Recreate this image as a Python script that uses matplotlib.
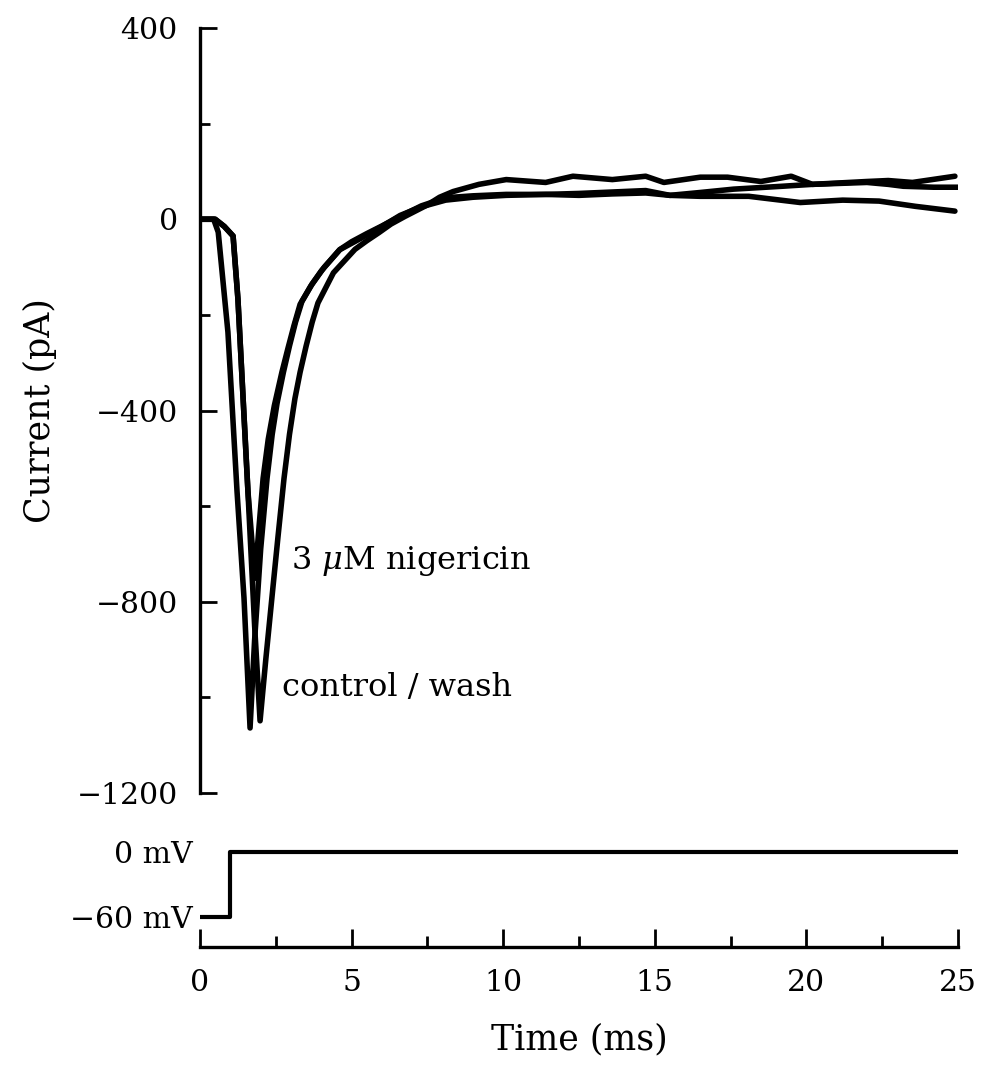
import numpy as np
import matplotlib.pyplot as plt
plt.switch_backend('agg')

plt.rcParams['font.family'] = 'DejaVu Serif'
plt.rcParams['mathtext.fontset'] = 'dejavuserif'

# control (fast trace, middle line at late times)
t_ctrl = [0, 0.45, 0.6, 0.92, 1.22, 1.45, 1.65, 1.8, 2.0, 2.21, 2.38, 2.54, 2.75, 2.95, 3.15, 3.36,
          3.7, 4.1, 4.62, 5.0, 5.5, 6.0, 6.6, 7.3, 8.1, 9.0, 10.1, 11.4, 12.5, 13.6, 14.7, 15.5,
          16.5, 17.6, 19.2, 20.2, 22.0, 22.7, 23.2, 24.2, 25.0]
i_ctrl = [0, 0, -27, -236, -569, -792, -1064, -880, -690, -542, -450, -385, -320, -265, -215, -172,
          -135, -100, -63, -47, -30, -14, 6, 28, 45, 49, 52, 52, 50, 53, 55, 50,
          56, 63, 69, 73, 77, 73, 69, 67, 67]

# wash (slowest trace, top line at late times)
t_wash = [0, 0.5, 0.8, 1.09, 1.25, 1.58, 1.8, 1.98, 2.17, 2.37, 2.57, 2.77, 2.95, 3.13, 3.3, 3.5,
          3.7, 3.89, 4.4, 5.11, 5.5, 5.9, 6.3, 6.76, 7.5, 7.9, 8.35, 9.2, 10.1, 11.4, 12.3, 13.6,
          14.7, 15.3, 16.5, 17.4, 18.5, 19.5, 20.2, 22.0, 22.7, 23.5, 24.9]
i_wash = [0, 0, -15, -35, -167, -569, -850, -1049, -920, -792, -665, -542, -450, -375, -320, -265,
          -215, -175, -112, -63, -45, -28, -10, 6, 30, 46, 58, 73, 83, 77, 90, 83,
          90, 77, 88, 88, 79, 90, 73, 79, 81, 77, 90]

# 3 uM nigericin (bottom line at late times)
t_nig = [0, 0.5, 0.8, 1.09, 1.25, 1.58, 1.81, 1.95, 2.08, 2.25, 2.45, 2.7, 2.9, 3.1, 3.3, 3.65,
         4.0, 4.6, 5.3, 6.0, 6.6, 7.3, 8.1, 9.0, 10.1, 11.4, 12.5, 13.6, 14.7, 15.5, 16.5, 18.1,
         19.8, 21.2, 22.4, 23.6, 24.9]
i_nig = [0, 0, -15, -35, -167, -569, -751, -640, -542, -460, -390, -320, -270, -222, -178, -140,
         -108, -64, -40, -15, 8, 26, 40, 46, 50, 52, 54, 57, 60, 50, 48, 48,
         35, 40, 38, 27, 17]

# voltage protocol
t_volt = [0, 1.0, 1.0, 25]
v_volt = [-60, -60, 0, 0]

fig = plt.figure(figsize=(9.83, 10.65), dpi=100)
ax = fig.add_axes([0.2035, 0.2554, 0.771, 0.7183])
ax2 = fig.add_axes([0.2035, 0.1108, 0.771, 0.1005])

for t, i in [(t_ctrl, i_ctrl), (t_wash, i_wash), (t_nig, i_nig)]:
    ax.plot(t, i, color='black', lw=4, solid_joinstyle='round', solid_capstyle='round')

ax.set_xlim(0, 25)
ax.set_ylim(-1200, 400)
for s in ['top', 'right', 'bottom']:
    ax.spines[s].set_visible(False)
ax.spines['left'].set_linewidth(2.4)
ax.set_xticks([])
ax.set_yticks([400, 0, -400, -800, -1200])
ax.set_yticklabels(['400', '0', '\u2212400', '\u2212800', '\u22121200'])
ax.set_yticks([200, -200, -600, -1000], minor=True)
ax.tick_params(axis='y', which='major', direction='in', length=12, width=2, labelsize=21.5, pad=16)
ax.tick_params(axis='y', which='minor', direction='in', length=7, width=2)
ax.set_ylabel('Current (pA)', fontsize=25, labelpad=14)

ax.text(3.0, -715, '3 $\\mu$M nigericin', fontsize=23, va='center')
ax.text(2.7, -980, 'control / wash', fontsize=23, va='center')

ax2.plot(t_volt, v_volt, color='black', lw=3)
ax2.set_xlim(0, 25)
ax2.set_ylim(-87.7, 11.1)
for s in ['top', 'right', 'left']:
    ax2.spines[s].set_visible(False)
ax2.spines['bottom'].set_linewidth(2.4)
ax2.set_yticks([0, -60])
ax2.set_yticklabels(['0 mV', '\u221260 mV'])
ax2.tick_params(axis='y', length=0, labelsize=21.5, pad=5)
ax2.set_xticks([0, 5, 10, 15, 20, 25])
ax2.set_xticks([2.5, 7.5, 12.5, 17.5, 22.5], minor=True)
ax2.tick_params(axis='x', which='major', direction='in', length=13, width=2, labelsize=21.5, pad=16)
ax2.tick_params(axis='x', which='minor', direction='in', length=8, width=2)
ax2.set_xlabel('Time (ms)', fontsize=25, labelpad=18)

fig.savefig('out.png', dpi=100)
